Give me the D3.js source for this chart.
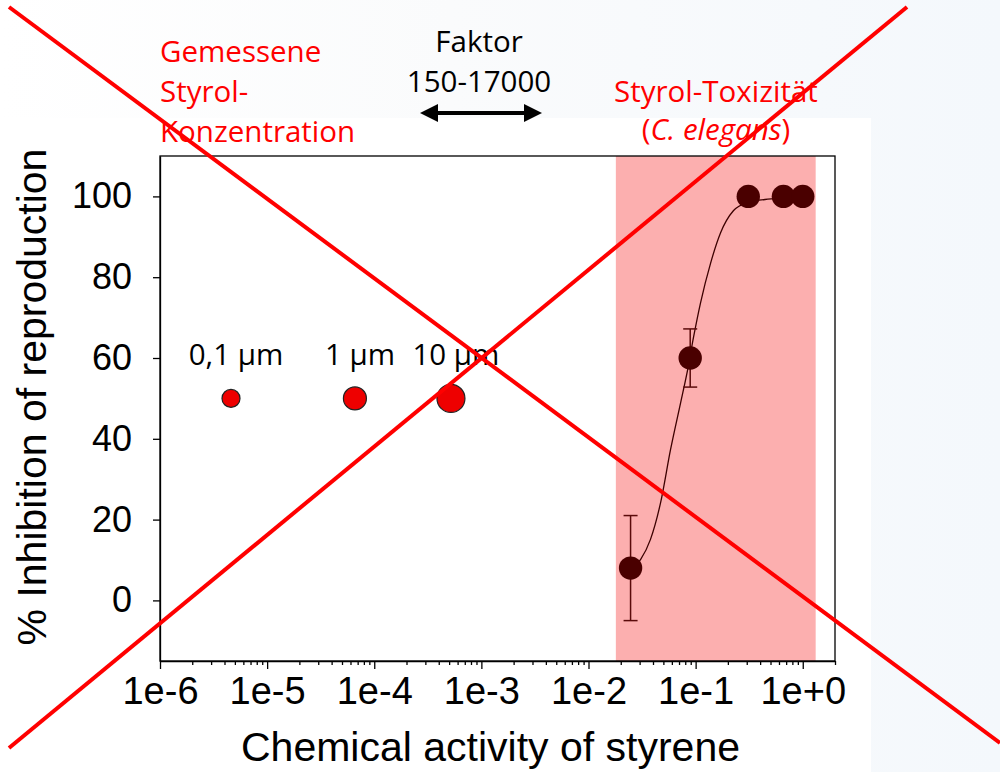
<!DOCTYPE html>
<html>
<head>
<meta charset="utf-8">
<script src="https://cdn.jsdelivr.net/npm/d3@7"></script>
<style>
body { margin: 0; background: #fff; }
svg { display: block; }
.axis text { font-family: "Liberation Sans", Arial, sans-serif; font-size: 36px; fill: #000; }
.axis.xa text { font-size: 38px; }
.axis path, .axis line { stroke: #000; stroke-width: 1.3px; }
.note { font-family: "Open Sans", sans-serif; font-size: 29.5px; }
</style>
</head>
<body>
<div id="chart"></div>
<script>
// measured microplastic points (particle size -> activity)
var measuredX = [4.6e-6, 6.6e-5, 5.2e-4];
var measuredY = [50, 50, 50];
var particleSize = [0.1, 1, 10];
var particleLabels = ["0,1 µm", "1 µm", "10 µm"];

// toxicity data C. elegans
var toxX = [0.0247, 0.089, 0.31, 0.66, 1.0];
var toxY = [8, 60, 100, 100, 100];
var toxErr = [13, 7.2, 0, 0, 0];

// fitted curve
var fitX = [0.0247, 0.0306, 0.0379, 0.0471, 0.0583, 0.0724, 0.0841, 0.0957, 0.111, 0.138, 0.171, 0.226, 0.306, 0.471, 0.622, 0.8];
var fitY = [7.7, 10.1, 15.1, 24.2, 37.3, 48.9, 57.0, 65.2, 73.6, 83.5, 91.0, 96.5, 98.5, 99.3, 99.5, 99.7];

var toxRange = [0.018, 1.32];
var xDomain = [1e-6, 2];
var yDomain = [-15, 110];
var xTicks = [1e-6, 1e-5, 1e-4, 1e-3, 1e-2, 1e-1, 1];
var yTicks = [0, 20, 40, 60, 80, 100];

var w = 1000, h = 772;
var pLeft = 160, pRight = 835, pTop = 156, pBottom = 661;

var svg = d3.select("#chart").append("svg")
    .attr("width", w)
    .attr("height", h);

// slide background
var grad = svg.append("defs").append("linearGradient")
    .attr("id", "bg").attr("x1", "0").attr("x2", "1").attr("y1", "0").attr("y2", "0");
grad.append("stop").attr("offset", "0%").attr("stop-color", "#ffffff");
grad.append("stop").attr("offset", "45%").attr("stop-color", "#fafbfc");
grad.append("stop").attr("offset", "100%").attr("stop-color", "#f4f8fc");
svg.append("rect").attr("width", w).attr("height", h).attr("fill", "url(#bg)");
svg.append("rect").attr("x", 0).attr("y", 118).attr("width", 871).attr("height", h - 118).attr("fill", "#fff");

var x = d3.scaleLog().domain(xDomain).range([pLeft, pRight]);
var y = d3.scaleLinear().domain(yDomain).range([pBottom, pTop]);
var r = d3.scaleLog().domain([0.1, 10]).range([9, 14]);

// toxicity range band
svg.append("rect")
    .attr("x", x(toxRange[0]))
    .attr("y", pTop)
    .attr("width", x(toxRange[1]) - x(toxRange[0]))
    .attr("height", pBottom - pTop)
    .attr("fill", "#fcafaf");

// frame
svg.append("rect")
    .attr("x", pLeft).attr("y", pTop)
    .attr("width", pRight - pLeft).attr("height", pBottom - pTop)
    .attr("fill", "none").attr("stroke", "#000").attr("stroke-width", 1.3);

// minor ticks
var minor = [];
for (var e = -6; e <= 0; e++) {
    for (var m = 2; m <= 9; m++) {
        var v = m * Math.pow(10, e);
        if (v <= xDomain[1]) minor.push(v);
    }
}
svg.append("g")
    .attr("class", "axis")
    .attr("transform", "translate(0," + pBottom + ")")
    .call(d3.axisBottom(x).tickValues(minor).tickSize(4).tickSizeOuter(0).tickFormat(""))
    .select(".domain").remove();

svg.append("g")
    .attr("class", "axis xa")
    .attr("transform", "translate(0," + pBottom + ")")
    .call(d3.axisBottom(x).tickValues(xTicks).tickSize(8).tickSizeOuter(0).tickPadding(8)
        .tickFormat(d3.format(".0e")));

svg.append("g")
    .attr("class", "axis")
    .attr("transform", "translate(" + pLeft + ",0)")
    .call(d3.axisLeft(y).tickValues(yTicks).tickSize(7).tickSizeOuter(0).tickPadding(21));

// axis titles
svg.append("text")
    .attr("x", (pLeft + pRight) / 2 - 7)
    .attr("y", 761)
    .attr("text-anchor", "middle")
    .style("font-family", "Liberation Sans, Arial, sans-serif")
    .style("font-size", "41px")
    .text("Chemical activity of styrene");

svg.append("text")
    .attr("transform", "translate(46," + 397 + ") rotate(-90)")
    .attr("text-anchor", "middle")
    .style("font-family", "Liberation Sans, Arial, sans-serif")
    .style("font-size", "41px")
    .text("% Inhibition of reproduction");

// fitted curve
var line = d3.line()
    .x(function (d, i) { return x(fitX[i]); })
    .y(function (d, i) { return y(fitY[i]); })
    .curve(d3.curveMonotoneX);
svg.append("path")
    .attr("d", line(fitX))
    .attr("fill", "none")
    .attr("stroke", "#3c0000")
    .attr("stroke-width", 1.3);

// error bars
var errG = svg.append("g").attr("stroke", "#5a0a0a").attr("stroke-width", 1.5);
toxX.forEach(function (d, i) {
    if (!toxErr[i]) return;
    var cx = x(d), y1 = y(toxY[i] + toxErr[i]), y2 = y(toxY[i] - toxErr[i]);
    errG.append("line").attr("x1", cx).attr("x2", cx).attr("y1", y1).attr("y2", y2);
    errG.append("line").attr("x1", cx - 7).attr("x2", cx + 7).attr("y1", y1).attr("y2", y1);
    errG.append("line").attr("x1", cx - 7).attr("x2", cx + 7).attr("y1", y2).attr("y2", y2);
});

svg.selectAll("circle.tox")
    .data(toxX)
    .enter()
    .append("circle")
    .attr("class", "tox")
    .attr("cx", function (d) { return x(d); })
    .attr("cy", function (d, i) { return y(toxY[i]); })
    .attr("r", 11.7)
    .attr("fill", "#4a0000");

// measured points
svg.selectAll("circle.meas")
    .data(measuredX)
    .enter()
    .append("circle")
    .attr("class", "meas")
    .attr("cx", function (d) { return x(d); })
    .attr("cy", function (d, i) { return y(measuredY[i]); })
    .attr("r", function (d, i) { return r(particleSize[i]); })
    .attr("fill", "#ee0000")
    .attr("stroke", "#222")
    .attr("stroke-width", 1.2);

svg.selectAll("text.plab")
    .data(particleLabels)
    .enter()
    .append("text")
    .attr("class", "note plab")
    .attr("x", function (d, i) { return x(measuredX[i]) + 5; })
    .attr("y", 365)
    .attr("text-anchor", "middle")
    .text(function (d) { return d; });

// annotations
var noteL = svg.append("text").attr("class", "note").attr("fill", "#ff0000");
["Gemessene", "Styrol-", "Konzentration"].forEach(function (t, i) {
    noteL.append("tspan").attr("x", 160).attr("y", 62 + i * 40).text(t);
});

var noteM = svg.append("text").attr("class", "note").attr("fill", "#000").attr("text-anchor", "middle");
["Faktor", "150-17000"].forEach(function (t, i) {
    noteM.append("tspan").attr("x", 479).attr("y", 52 + i * 40).text(t);
});

var noteR = svg.append("text").attr("class", "note").attr("fill", "#ff0000").attr("text-anchor", "middle");
noteR.append("tspan").attr("x", 716).attr("y", 102).text("Styrol-Toxizität");
var l2 = svg.append("text").attr("class", "note").attr("fill", "#ff0000").attr("text-anchor", "middle")
    .attr("x", 716).attr("y", 140);
l2.append("tspan").text("(");
l2.append("tspan").style("font-style", "italic").text("C. elegans");
l2.append("tspan").text(")");

// double arrow
var ay = 113;
svg.append("line").attr("x1", 432).attr("x2", 530).attr("y1", ay).attr("y2", ay)
    .attr("stroke", "#000").attr("stroke-width", 4);
svg.append("path").attr("d", "M420," + ay + " L438," + (ay - 9) + " L438," + (ay + 9) + " Z").attr("fill", "#000");
svg.append("path").attr("d", "M542," + ay + " L524," + (ay - 9) + " L524," + (ay + 9) + " Z").attr("fill", "#000");

// red cross
svg.append("line").attr("x1", 9).attr("y1", 7).attr("x2", 1000).attr("y2", 743)
    .attr("stroke", "#ff0000").attr("stroke-width", 4);
svg.append("line").attr("x1", 907).attr("y1", 7).attr("x2", 9).attr("y2", 748)
    .attr("stroke", "#ff0000").attr("stroke-width", 4);
</script>
</body>
</html>
